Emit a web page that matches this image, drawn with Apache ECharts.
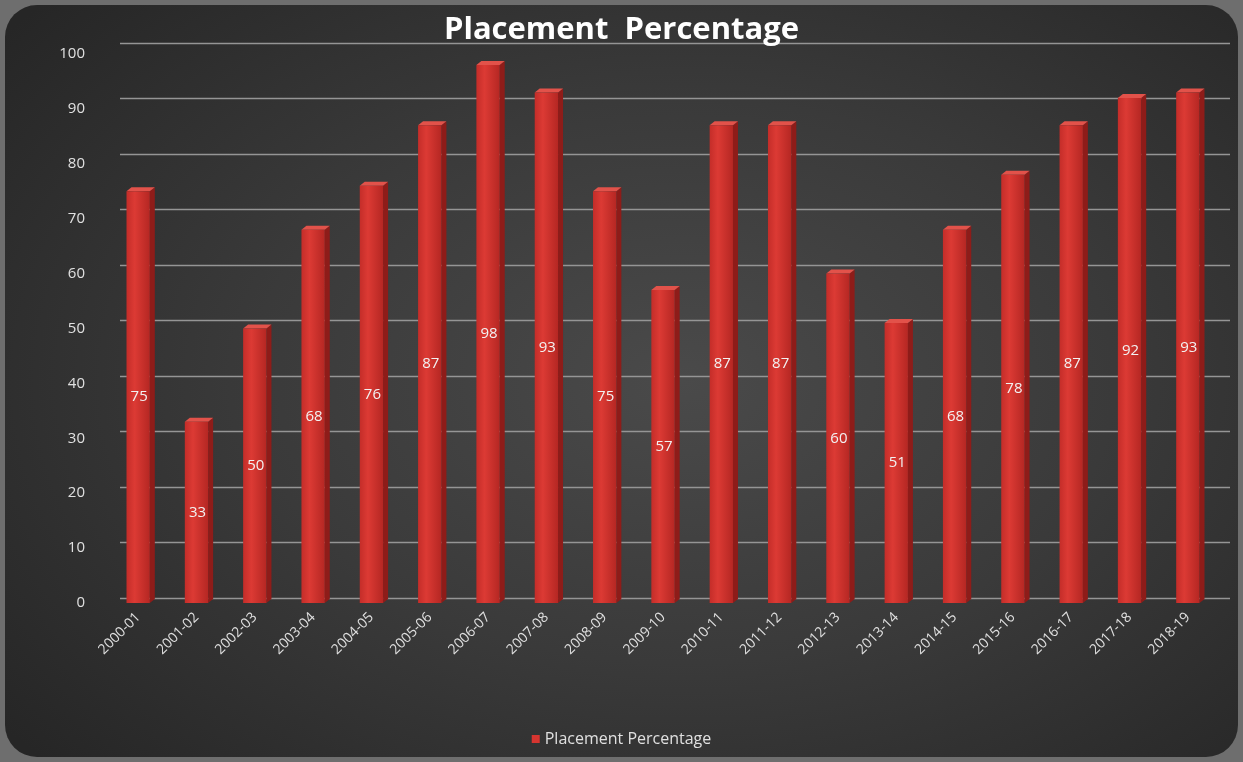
<!DOCTYPE html>
<html>
<head>
<meta charset="utf-8">
<script src="https://cdn.jsdelivr.net/npm/echarts@6/dist/echarts.min.js"></script>
<style>
html,body{margin:0;padding:0;width:1243px;height:762px;background:#6e6e6e;overflow:hidden;}
#panel{position:absolute;left:5px;top:5px;width:1233px;height:752px;border-radius:32px;
background:radial-gradient(ellipse 70% 75% at 55% 50%, #4a4a4a 0%, #3a3a3a 50%, #262626 100%);}
#chart{position:absolute;left:0;top:0;width:1243px;height:762px;}
</style>
</head>
<body>
<div id="panel"></div>
<div id="chart"></div>
<script>
const categories = ['2000-01','2001-02','2002-03','2003-04','2004-05','2005-06','2006-07','2007-08','2008-09','2009-10','2010-11','2011-12','2012-13','2013-14','2014-15','2015-16','2016-17','2017-18','2018-19'];
const placement = [75,33,50,68,76,87,98,93,75,57,87,87,60,51,68,78,87,92,93];
const seriesName = 'Placement Percentage';

const chart = echarts.init(document.getElementById('chart'), null, {renderer:'canvas'});
const font = '"Open Sans", "Liberation Sans", sans-serif';

function renderBar(params, api){
  const idx = api.value(0);
  const v = api.value(1);
  const top = api.coord([idx, v]);
  const base = api.coord([idx, 0]);
  const band = api.size([1,0])[0];
  const w = band * 0.40;
  const x0 = top[0] - w/2, x1 = top[0] + w/2;
  const dx = 5, dy = -4;
  return {
    type:'group',
    children:[
      {type:'polygon', shape:{points:[[x1,top[1]],[x1+dx,top[1]+dy],[x1+dx,base[1]+dy],[x1,base[1]]]},
       style:{fill:'#8e1c19'}},
      {type:'polygon', shape:{points:[[x0,top[1]],[x0+dx,top[1]+dy],[x1+dx,top[1]+dy],[x1,top[1]]]},
       style:{fill:'#e2524a'}},
      {type:'rect', shape:{x:x0, y:top[1], width:w, height:base[1]-top[1]},
       style:{fill:new echarts.graphic.LinearGradient(0,0,1,0,[{offset:0,color:'#c42d29'},{offset:0.35,color:'#dc3a34'},{offset:1,color:'#b52723'}])}},
      {type:'text', x:top[0]+1, y:(top[1]+base[1])/2,
       style:{text:String(v), fill:'#f2f2f2', font:'15px '+font, align:'center', verticalAlign:'middle'}}
    ]
  };
}

chart.setOption({
  backgroundColor:'transparent',
  title:{text:'Placement  Percentage', left:'center', top:10,
    textStyle:{color:'#ffffff', fontSize:31, fontWeight:'bold', fontFamily:font}},
  legend:{bottom:10, left:'center', icon:'rect', itemWidth:8, itemHeight:8,
    textStyle:{color:'#e0e0e0', fontSize:16, fontFamily:font},
    data:[{name:seriesName, itemStyle:{color:'#d63530'}}]},
  grid:[
    {left:109, right:26, top:54, bottom:159},
    {left:120, right:13, top:43, bottom:164}
  ],
  xAxis:[
    {type:'category', data:categories, gridIndex:0,
     axisLine:{show:false}, axisTick:{show:false},
     axisLabel:{rotate:45, color:'#e0e0e0', fontSize:14, fontFamily:font, margin:12}},
    {type:'category', data:categories, gridIndex:1, show:false}
  ],
  yAxis:[
    {type:'value', min:0, max:100, interval:10, gridIndex:0,
     axisLine:{show:false}, axisTick:{show:false}, splitLine:{show:false},
     axisLabel:{color:'#e0e0e0', fontSize:15, fontFamily:font, margin:24}},
    {type:'value', min:0, max:100, interval:10, gridIndex:1,
     axisLine:{show:false}, axisTick:{show:false}, axisLabel:{show:false},
     splitLine:{lineStyle:{color:'#959595', width:1.3}}}
  ],
  series:[{name:seriesName, type:'custom', renderItem:renderBar,
    xAxisIndex:0, yAxisIndex:0,
    itemStyle:{color:'#d63530'},
    encode:{x:0, y:1},
    data:placement.map((v,i)=>[i,v])}]
});
</script>
</body>
</html>
